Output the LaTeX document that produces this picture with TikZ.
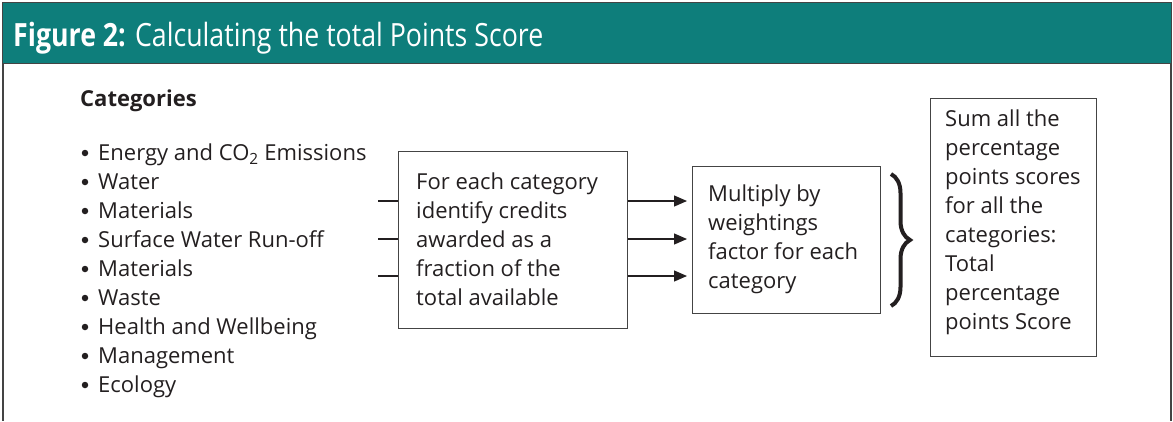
\documentclass[tikz,border=0pt]{standalone}
\usepackage{fontspec}
\setmainfont{Open Sans}
\usetikzlibrary{arrows.meta,decorations.pathreplacing}
\definecolor{teal1}{HTML}{0E7E7B}
\definecolor{ink}{HTML}{231F20}
\definecolor{frame}{HTML}{444444}
\tikzset{
  txt/.style={text=ink,inner sep=0pt,font=\fontsize{22}{29}\selectfont},
  item/.style={txt,anchor=base west},
  box/.style={draw=frame,line width=1.2pt,anchor=north west,inner sep=0pt},
  conn/.style={draw=ink,line width=1.2pt},
  arr/.style={conn,-{Triangle[length=13pt,width=11pt]},shorten >=5pt},
  dot/.style={circle,fill=ink,inner sep=0pt,minimum size=6.5pt},
}
\begin{document}
\begin{tikzpicture}[x=1pt,y=-1pt]
\useasboundingbox (0,0) rectangle (1173,421);
% frame and header
\draw[frame,line width=1.2pt] (3,63) -- (3,421);
\draw[frame,line width=1.2pt] (1171,63) -- (1171,421);
\node[draw=frame,line width=1.2pt,fill=teal1,minimum width=1169pt,minimum height=61pt,anchor=north west,inner sep=0pt] (hdr) at (2,2) {};
\node[anchor=base west,inner sep=0pt,text=white,font=\fontsize{32}{36}\selectfont] (title) at (13,46) {\scalebox{0.835}[1]{\textbf{Figure 2:} Calculating the total Points Score}};
% categories
\node[item,font=\bfseries\fontsize{22}{29}\selectfont] (cat) at (80,106) {Categories};
\foreach \t [count=\i] in {Energy and CO\textsubscript{2} Emissions,Water,Materials,Surface Water Run-off,Materials,Waste,Health and Wellbeing,Management,Ecology}{
  \node[item] (it\i) at (98,{160+29*(\i-1)}) {\t};
  \node[dot] (d\i) at (85,{153+29*(\i-1)}) {};
}
% boxes
\node[box,minimum width=229pt,minimum height=177pt] (b1) at (398,151) {};
\node[txt,align=left,anchor=west] (b1t) at (416,239.5) {For each category\\identify credits\\awarded as a\\fraction of the\\total available};
\node[box,minimum width=188pt,minimum height=147pt] (b2) at (692,166) {};
\node[txt,align=left,anchor=west] (b2t) at (708,239.5) {Multiply by\\weightings\\factor for each\\category};
\node[box,minimum width=166pt,minimum height=258pt] (b3) at (930,98) {};
\node[txt,align=left,anchor=west] (b3t) at (945,222) {Sum all the\\percentage\\points scores\\for all the\\categories:\\Total\\percentage\\points Score};
% connectors
\foreach \y [count=\i] in {201,239,276}{
  \coordinate (s\i) at (378,\y);
  \coordinate (e\i) at (b1.west |- s\i);
  \coordinate (f\i) at (b1.east |- s\i);
  \coordinate (g\i) at (b2.west |- s\i);
  \draw[conn] (s\i) -- (e\i);
  \draw[arr] (f\i) -- (g\i);
}
% brace
\coordinate (br1) at (891,174);
\coordinate (br2) at (891,306);
\draw[ink,line width=4pt,decorate,decoration={brace,amplitude=19pt,aspect=0.5}] (br1) -- (br2);
\end{tikzpicture}
\end{document}
